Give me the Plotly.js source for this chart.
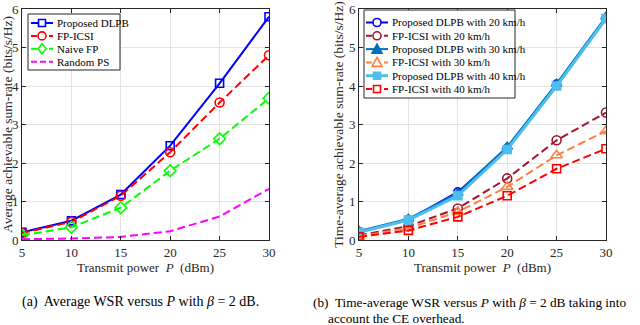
<!DOCTYPE html>
<html>
<head>
<meta charset="utf-8">
<script src="https://cdn.plot.ly/plotly-3.0.1.min.js"></script>
<style>
  html, body { margin: 0; padding: 0; background: #fff; }
  #chart { width: 640px; height: 325px; }
</style>
</head>
<body>
<div id="chart"></div>
<script>
const power = [5, 10, 15, 20, 25, 30];
const yTicks = [0, 1, 2, 3, 4, 5, 6];

// (a) average WSR
const namesA = ["Proposed DLPB", "FP-ICSI", "Naive FP", "Random PS"];
const dlpbA = [0.20, 0.50, 1.18, 2.45, 4.07, 5.80];
const fpIcsiA = [0.18, 0.47, 1.15, 2.28, 3.57, 4.80];
const naiveFpA = [0.12, 0.33, 0.84, 1.80, 2.63, 3.68];
const randomPsA = [0.02, 0.04, 0.08, 0.23, 0.61, 1.33];

// (b) time-average WSR with CE overhead
const namesB = [
  "Proposed DLPB with 20 km/h", "FP-ICSI with 20 km/h",
  "Proposed DLPB with 30 km/h", "FP-ICSI with 30 km/h",
  "Proposed DLPB with 40 km/h", "FP-ICSI with 40 km/h"
];
const dlpb20 = [0.22, 0.52, 1.25, 2.38, 4.05, 5.76];
const fpIcsi20 = [0.12, 0.36, 0.82, 1.60, 2.59, 3.31];
const dlpb30 = [0.23, 0.55, 1.22, 2.42, 4.06, 5.80];
const fpIcsi30 = [0.10, 0.31, 0.73, 1.38, 2.20, 2.83];
const dlpb40 = [0.20, 0.52, 1.15, 2.35, 4.00, 5.75];
const fpIcsi40 = [0.08, 0.25, 0.60, 1.15, 1.85, 2.37];

const serif = '"Liberation Serif", "Times New Roman", serif';
const dashed = "8px,4px";

// style per series: color, dash, symbol, marker size, line width
const styleA = [
  { color: "#0000ff", dash: "solid", symbol: "square-open", size: 8, width: 2 },
  { color: "#ff0000", dash: dashed, symbol: "circle-open", size: 9, width: 2 },
  { color: "#00ff00", dash: dashed, symbol: "diamond-open", size: 9, width: 2 },
  { color: "#ff00ff", dash: dashed, symbol: null, size: 0, width: 2 }
];
const styleB = [
  { color: "#0000ff", dash: "solid", symbol: "circle-open", size: 8, width: 2 },
  { color: "#a2142f", dash: dashed, symbol: "circle-open", size: 9, width: 2 },
  { color: "#0072bd", dash: "solid", symbol: "triangle-up", size: 9, width: 2 },
  { color: "#ff7f3f", dash: dashed, symbol: "triangle-up-open", size: 10, width: 2 },
  { color: "#4dbeee", dash: "solid", symbol: "square", size: 8, width: 3 },
  { color: "#ff0000", dash: dashed, symbol: "square-open", size: 8, width: 2 }
];

function series(y, name, st, axis) {
  const t = {
    x: power, y: y, name: name, type: "scatter", showlegend: false,
    mode: st.symbol ? "lines+markers" : "lines",
    line: { color: st.color, width: st.width, dash: st.dash },
    xaxis: axis === 2 ? "x2" : "x",
    yaxis: axis === 2 ? "y2" : "y"
  };
  if (st.symbol) {
    t.marker = { symbol: st.symbol, size: st.size, color: st.color, line: { color: st.color, width: 1.6 } };
  }
  return t;
}

const dataA = [dlpbA, fpIcsiA, naiveFpA, randomPsA];
const dataB = [dlpb20, fpIcsi20, dlpb30, fpIcsi30, dlpb40, fpIcsi40];
const traces = [];
dataA.forEach((y, i) => traces.push(series(y, namesA[i], styleA[i], 1)));
dataB.forEach((y, i) => traces.push(series(y, namesB[i], styleB[i], 2)));

function xAxis(domain, anchor) {
  return {
    domain: domain, anchor: anchor, range: [5, 30],
    tickvals: power, ticks: "inside", ticklen: 4, tickcolor: "#262626",
    showline: true, mirror: "ticks", linecolor: "#262626", linewidth: 1,
    showgrid: true, gridcolor: "#e3e3e3", zeroline: false,
    tickfont: { family: serif, size: 13, color: "#262626" },
    title: { text: "Transmit power  <i>P</i>  (dBm)", font: { family: serif, size: 13, color: "#262626" }, standoff: 4 }
  };
}
function yAxis(domain, anchor, text) {
  return {
    domain: domain, anchor: anchor, range: [0, 6],
    tickvals: yTicks, ticks: "inside", ticklen: 4, tickcolor: "#262626",
    showline: true, mirror: "ticks", linecolor: "#262626", linewidth: 1,
    showgrid: true, gridcolor: "#e3e3e3", zeroline: false,
    tickfont: { family: serif, size: 13, color: "#262626" },
    title: { text: text, font: { family: serif, size: 13.5, color: "#262626" }, standoff: 2 }
  };
}

// pixel -> paper helpers for the legend boxes
const PX = p => p / 640;
const PY = p => 1 - p / 325;

const shapes = [];
const annotations = [];

function markerShape(sym, cx, cy, color) {
  const open = sym.indexOf("open") >= 0;
  const fill = open ? "#ffffff" : color;
  const ln = { color: color, width: 1.6 };
  if (sym.startsWith("square")) {
    shapes.push({ type: "rect", xref: "paper", yref: "paper", x0: PX(cx - 3.5), x1: PX(cx + 3.5), y0: PY(cy + 3.5), y1: PY(cy - 3.5), line: ln, fillcolor: fill });
  } else if (sym.startsWith("circle")) {
    shapes.push({ type: "circle", xref: "paper", yref: "paper", x0: PX(cx - 4), x1: PX(cx + 4), y0: PY(cy + 4), y1: PY(cy - 4), line: ln, fillcolor: fill });
  } else if (sym.startsWith("diamond")) {
    const p = `M${PX(cx)},${PY(cy - 5)} L${PX(cx + 4)},${PY(cy)} L${PX(cx)},${PY(cy + 5)} L${PX(cx - 4)},${PY(cy)} Z`;
    shapes.push({ type: "path", xref: "paper", yref: "paper", path: p, line: ln, fillcolor: fill });
  } else if (sym.startsWith("triangle-up")) {
    const p = `M${PX(cx)},${PY(cy - 5)} L${PX(cx + 5)},${PY(cy + 4)} L${PX(cx - 5)},${PY(cy + 4)} Z`;
    shapes.push({ type: "path", xref: "paper", yref: "paper", path: p, line: ln, fillcolor: fill });
  }
}

function legendBox(names, styles, box, firstY, step, lineX0, lineX1, textX) {
  shapes.push({
    type: "rect", xref: "paper", yref: "paper", layer: "above",
    x0: PX(box[0]), x1: PX(box[1]), y0: PY(box[3]), y1: PY(box[2]),
    line: { color: "#262626", width: 1 }, fillcolor: "#ffffff"
  });
  names.forEach((name, i) => {
    const st = styles[i];
    const cy = firstY + step * i;
    shapes.push({
      type: "line", xref: "paper", yref: "paper",
      x0: PX(lineX0), x1: PX(lineX1), y0: PY(cy), y1: PY(cy),
      line: { color: st.color, width: st.width, dash: st.dash === "solid" ? "solid" : "6px,3px" }
    });
    if (st.symbol) markerShape(st.symbol, (lineX0 + lineX1) / 2, cy, st.color);
    annotations.push({
      xref: "paper", yref: "paper", x: PX(textX), y: PY(cy),
      xanchor: "left", yanchor: "middle", showarrow: false,
      text: name, font: { family: serif, size: 11, color: "#000" }
    });
  });
}

legendBox(namesA, styleA, [28, 120, 14, 70], 23, 12.9, 31, 53, 55);
legendBox(namesB, styleB, [364, 515, 10, 98], 22.5, 13.3, 366, 388, 390);

const captionFont = { family: serif, size: 14, color: "#000" };
annotations.push(
  {
    xref: "paper", yref: "paper", x: PX(140), y: PY(302),
    xanchor: "center", yanchor: "middle", showarrow: false,
    text: "(a)  Average WSR versus <i>P</i> with <i>β</i> = 2 dB.", font: captionFont
  },
  {
    xref: "paper", yref: "paper", x: PX(311), y: PY(302),
    xanchor: "left", yanchor: "middle", showarrow: false,
    text: "(b)  Time-average WSR versus <i>P</i> with <i>β</i> = 2 dB taking into",
    font: { family: serif, size: 13.3, color: "#000" }
  },
  {
    xref: "paper", yref: "paper", x: PX(326), y: PY(318),
    xanchor: "left", yanchor: "middle", showarrow: false,
    text: "account the CE overhead.", font: { family: serif, size: 13.3, color: "#000" }
  }
);

const yDom = [1 - 240 / 325, 1 - 9 / 325];

const layout = {
  width: 640, height: 325,
  margin: { l: 0, r: 0, t: 0, b: 0 },
  paper_bgcolor: "#fff", plot_bgcolor: "#fff",
  showlegend: false,
  xaxis: xAxis([22 / 640, 269 / 640], "y"),
  yaxis: yAxis(yDom, "x", "Average achievable sum-rate (bits/s/Hz)"),
  xaxis2: xAxis([359 / 640, 606 / 640], "y2"),
  yaxis2: yAxis(yDom, "x2", "Time-average achievable sum-rate (bits/s/Hz)"),
  shapes: shapes,
  annotations: annotations
};

Plotly.newPlot("chart", traces, layout, { displayModeBar: false, staticPlot: true });
</script>
</body>
</html>
